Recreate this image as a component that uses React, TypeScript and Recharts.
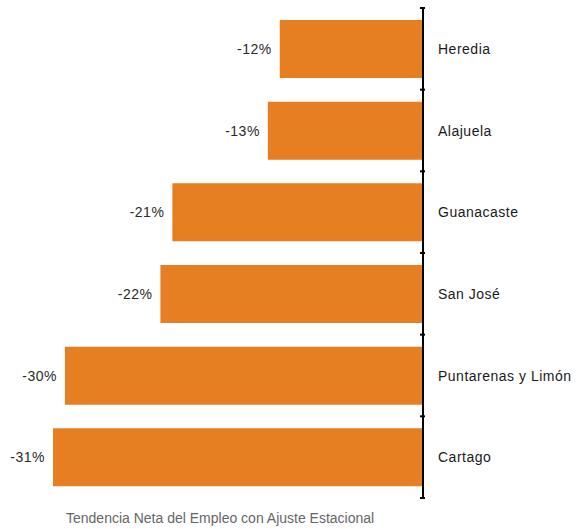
import { BarChart, Bar, XAxis, YAxis, LabelList } from 'recharts';

const regions = ['Heredia', 'Alajuela', 'Guanacaste', 'San José', 'Puntarenas y Limón', 'Cartago'];
const netTrend = [-12, -13, -21, -22, -30, -31];
const footerText = 'Tendencia Neta del Empleo con Ajuste Estacional';

const data = regions.map((name, i) => ({ name, value: netTrend[i] }));

const W = 576;
const H = 529;
const AXIS_W = 153;
const margin = { top: 8, right: 0, left: 53, bottom: 31 };
const band = (H - margin.top - margin.bottom) / regions.length;
const FONT = 'Liberation Sans, Arial, sans-serif';

const RegionTick = (props: any) => {
  const { x, y, payload, index } = props;
  const isLast = index === regions.length - 1;
  return (
    <g>
      <line x1={x - 5} y1={y - band / 2} x2={x} y2={y - band / 2} stroke="#000" strokeWidth={2} />
      {isLast && (
        <line x1={x - 5} y1={y + band / 2} x2={x} y2={y + band / 2} stroke="#000" strokeWidth={2} />
      )}
      <text x={x + 13} y={y} dy={5} fontSize={14} letterSpacing={0.5} fill="#1a1a1a" fontFamily={FONT}>
        {payload.value}
      </text>
    </g>
  );
};

const ValueLabel = (props: any) => {
  const { x, y, width, height, value } = props;
  const left = Math.min(x, x + width);
  return (
    <text
      x={left - 8}
      y={y + height / 2}
      dy={5}
      textAnchor="end"
      fontSize={14}
      letterSpacing={0.5}
      fill="#2a2a2a"
      fontFamily={FONT}
    >
      {`${value}%`}
    </text>
  );
};

export default function App() {
  return (
    <div style={{ position: 'absolute', left: 0, top: 0, width: W, height: H, background: '#fff' }}>
      <BarChart width={W} height={H} data={data} layout="vertical" margin={margin} barSize={58}>
        <XAxis type="number" domain={[-31, 0]} hide />
        <YAxis
          type="category"
          dataKey="name"
          orientation="right"
          width={AXIS_W}
          axisLine={{ stroke: '#000', strokeWidth: 2 }}
          tickLine={false}
          tickSize={0}
          tick={<RegionTick />}
          interval={0}
        />
        <Bar dataKey="value" fill="#E67E22" isAnimationActive={false}>
          <LabelList dataKey="value" content={<ValueLabel />} />
        </Bar>
      </BarChart>
      <div
        style={{
          position: 'absolute',
          left: 66,
          top: 510,
          fontFamily: FONT,
          fontSize: 14,
          color: '#666',
          whiteSpace: 'nowrap',
        }}
      >
        {footerText}
      </div>
    </div>
  );
}
